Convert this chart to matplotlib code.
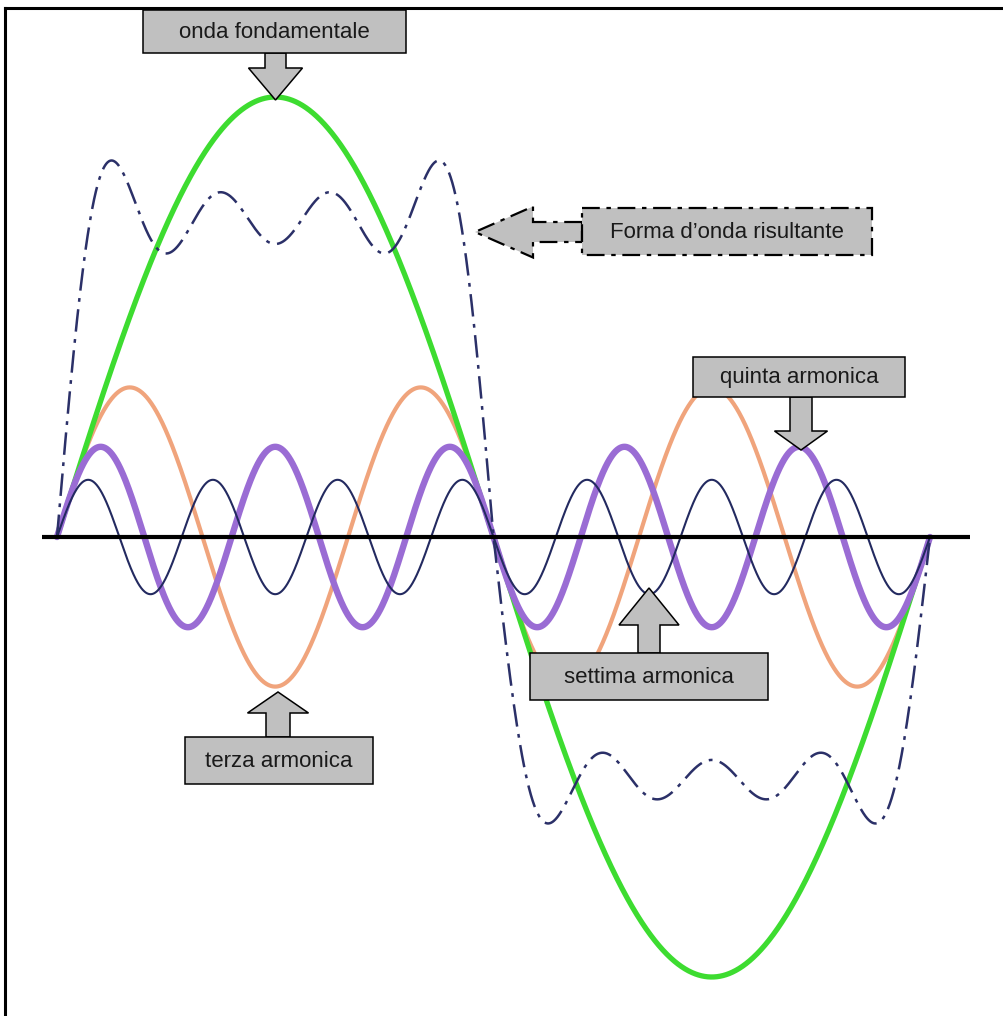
import numpy as np
import matplotlib
matplotlib.use("Agg")
import matplotlib.pyplot as plt
from matplotlib.patches import Polygon, Rectangle

# harmonics (amplitude relative to the fundamental)
orders = [1, 3, 5, 7]
amplitudes = [1.0, 0.34, 0.205, 0.13]
colors = ["#3ddc30", "#f0a47c", "#9a6cd4", "#232a60"]
widths = [3.8, 3.0, 4.6, 1.5]
zorders = [3, 2, 4, 5]

# resultant (sum of the four harmonics) is drawn smaller, and smaller again below the axis
resultant_gain = [0.92, 0.70]   # first half period, second half period

labels = ["onda fondamentale", "Forma d\u2019onda risultante", "quinta armonica",
          "settima armonica", "terza armonica"]

# pixel layout of the picture
X0, PERIOD, Y0, AMP = 57, 873, 537, 440
W, H = 1004, 1016

fig = plt.figure(figsize=(W / 100, H / 100), dpi=100)
ax = fig.add_axes([0, 0, 1, 1])
ax.set_xlim(-X0 / PERIOD * 2 * np.pi, (W - X0) / PERIOD * 2 * np.pi)
ax.set_ylim((Y0 - H) / AMP, Y0 / AMP)
ax.axis("off")

t = np.linspace(0, 2 * np.pi, 2000)
for n, a, c, lw, z in zip(orders, amplitudes, colors, widths, zorders):
    ax.plot(t, a * np.sin(n * t), color=c, lw=lw, zorder=z, solid_capstyle="round")

total = sum(np.sin(n * t) / n for n in orders)
gain = np.where(t < np.pi, resultant_gain[0], resultant_gain[1])
ax.plot(t, gain * total, color="#2b3068", lw=1.8, dashes=(9, 3, 1.5, 3), zorder=6)

# horizontal axis
ax.plot([(42 - X0) / PERIOD * 2 * np.pi, (970 - X0) / PERIOD * 2 * np.pi], [0, 0],
        color="black", lw=3, zorder=7, solid_capstyle="butt")

# overlay in pixel units for frame and callouts
ov = fig.add_axes([0, 0, 1, 1])
ov.set_xlim(0, W)
ov.set_ylim(H, 0)
ov.axis("off")
ov.patch.set_alpha(0)

ov.plot([5, W], [8, 8], color="black", lw=2.2, solid_capstyle="projecting")
ov.plot([5, 5], [8, H], color="black", lw=2.2, solid_capstyle="projecting")


def arrow(cx, cy, direction, stem_w, stem_l, head_w, head_l):
    # block arrow starting at (cx, cy) on the box edge
    s, h = stem_w / 2, head_w / 2
    pts = [(-s, 0), (-s, stem_l), (-h, stem_l), (0, stem_l + head_l),
           (h, stem_l), (s, stem_l), (s, 0)]
    if direction == "down":
        return [(cx + u, cy + v) for u, v in pts]
    if direction == "up":
        return [(cx + u, cy - v) for u, v in pts]
    return [(cx - v, cy + u) for u, v in pts]  # left


boxes = [(143, 10, 406, 53), (582, 208, 872, 255), (693, 357, 905, 397),
         (530, 653, 768, 700), (185, 737, 373, 784)]
arrows = [(275.5, 53, "down", 21, 15, 54, 32),
          (582, 232, "left", 20, 49, 51, 58),
          (801, 397, "down", 22, 34, 53, 19),
          (649, 653, "up", 22, 28, 60, 37),
          (278, 737, "up", 24, 24, 61, 21)]

for i, (lab, b, ar) in enumerate(zip(labels, boxes, arrows)):
    ls = (0, (8, 3, 2, 3)) if i == 1 else "solid"
    lw = 1.6 if i == 1 else 1.1
    ov.add_patch(Polygon(arrow(*ar), closed=True, facecolor="#c0c0c0",
                         edgecolor="black", lw=lw, linestyle=ls, zorder=10))
    ov.add_patch(Rectangle((b[0], b[1]), b[2] - b[0], b[3] - b[1], facecolor="#c0c0c0",
                           edgecolor="black", lw=lw, linestyle=ls, zorder=11))
    ov.text((b[0] + b[2]) / 2, (b[1] + b[3]) / 2 + 1, lab, ha="center", va="center",
            fontsize=16, family="Liberation Sans", color="#1a1a1a", zorder=12)

fig.savefig("out.png", dpi=100, facecolor="white")
